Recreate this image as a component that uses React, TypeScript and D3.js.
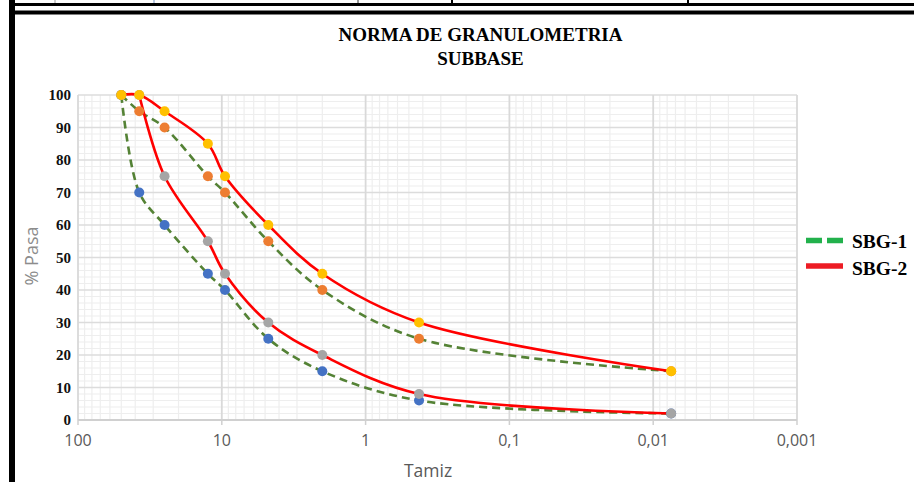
import React from "react";
import * as d3 from "d3";

const W = 914;
const H = 482;

// Sieve sizes (mm) as plotted
const sieves = [50, 37.5, 25, 12.5, 9.5, 4.75, 2, 0.425, 0.0075];
// SBG-1 limits
const sbg1Min = [100, 70, 60, 45, 40, 25, 15, 6, 2];
const sbg1Max = [100, 95, 90, 75, 70, 55, 40, 25, 15];
// SBG-2 limits
const sbg2Min = [100, 100, 75, 55, 45, 30, 20, 8, 2];
const sbg2Max = [100, 100, 95, 85, 75, 60, 45, 30, 15];

const xTickValues = [100, 10, 1, 0.1, 0.01, 0.001];
const xTickLabels = ["100", "10", "1", "0,1", "0,01", "0,001"];
const yTickValues = [0, 10, 20, 30, 40, 50, 60, 70, 80, 90, 100];

const titleLines = ["NORMA DE GRANULOMETRIA", "SUBBASE"];
const legendLabels = ["SBG-1", "SBG-2"];

export default function App() {
  const x = d3.scaleLog().domain([100, 0.001]).range([78, 797]);
  const y = d3.scaleLinear().domain([0, 100]).range([420, 95]);

  const minorX: number[] = [];
  [0.001, 0.01, 0.1, 1, 10].forEach((d) => {
    for (let k = 2; k <= 9; k++) minorX.push(k * d);
  });
  const minorY: number[] = d3.range(0, 101, 2).filter((v) => v % 10 !== 0);

  const line = d3
    .line<[number, number]>()
    .x((d) => x(d[0]))
    .y((d) => y(d[1]))
    .curve(d3.curveCatmullRom.alpha(0.5));

  const pts = (vals: number[], trimTop = false) => {
    let arr = sieves.map((s, i) => [s, vals[i]] as [number, number]);
    if (trimTop) {
      let k = 0;
      while (k + 1 < arr.length && arr[k + 1][1] === 100) k++;
      arr = arr.slice(k);
    }
    return arr;
  };

  const markerSeries = [
    { vals: sbg1Min, color: "#4472C4" },
    { vals: sbg1Max, color: "#ED7D31" },
    { vals: sbg2Min, color: "#A5A5A5" },
    { vals: sbg2Max, color: "#FFC000" },
  ];

  const serif = "'Liberation Serif', 'DejaVu Serif', serif";
  const sans = "'Open Sans', 'Noto Sans', sans-serif";

  return (
    <svg
      width={W}
      height={H}
      style={{ position: "absolute", left: 0, top: 0, background: "#fff" }}
    >
      <rect x={0} y={0} width={W} height={H} fill="#fff" />
      {/* document borders */}
      <rect x={9} y={0} width={6} height={H} fill="#000" />
      <rect x={9} y={3} width={W - 9} height={3} fill="#000" />
      <rect x={9} y={10.5} width={W - 9} height={4} fill="#000" />
      <line x1={55} x2={55} y1={0} y2={3} stroke="#999" strokeWidth={1} />
      <line x1={154} x2={154} y1={0} y2={3} stroke="#7090c0" strokeWidth={1} />
      <line x1={358} x2={358} y1={0} y2={3} stroke="#333" strokeWidth={1} />
      <line x1={452} x2={452} y1={0} y2={3} stroke="#000" strokeWidth={2} />
      <line x1={688} x2={688} y1={0} y2={3} stroke="#000" strokeWidth={2} />

      {/* title */}
      {titleLines.map((t, i) => (
        <text
          key={t}
          x={480.5}
          y={41 + i * 24}
          textAnchor="middle"
          fontFamily={serif}
          fontWeight="bold"
          fontSize={19}
          fill="#000"
        >
          {t}
        </text>
      ))}

      {/* minor grid */}
      {minorY.map((v) => (
        <line key={"my" + v} x1={78} x2={797} y1={y(v)} y2={y(v)} stroke="#eeeeee" strokeWidth={1.2} />
      ))}
      {minorX.map((v) => (
        <line key={"mx" + v} x1={x(v)} x2={x(v)} y1={95} y2={420} stroke="#eeeeee" strokeWidth={1.2} />
      ))}
      {/* major grid */}
      {yTickValues.map((v) => (
        <line key={"gy" + v} x1={78} x2={797} y1={y(v)} y2={y(v)} stroke="#dcdcdc" strokeWidth={1.5} />
      ))}
      {xTickValues.map((v) => (
        <line key={"gx" + v} x1={x(v)} x2={x(v)} y1={95} y2={420} stroke="#d9d9d9" strokeWidth={1.8} />
      ))}
      {/* x axis line and ticks */}
      <line x1={78} x2={797} y1={420} y2={420} stroke="#d0d0d0" strokeWidth={1.8} />
      {xTickValues.map((v) => (
        <line key={"tx" + v} x1={x(v)} x2={x(v)} y1={420} y2={425} stroke="#d0d0d0" strokeWidth={1.5} />
      ))}

      {/* y tick labels */}
      {yTickValues.map((v) => (
        <text
          key={"yl" + v}
          x={71}
          y={y(v) + 5}
          textAnchor="end"
          fontFamily={serif}
          fontWeight="bold"
          fontSize={15}
          fill="#111"
        >
          {v}
        </text>
      ))}
      {/* x tick labels */}
      {xTickValues.map((v, i) => (
        <text
          key={"xl" + v}
          x={x(v)}
          y={446}
          textAnchor="middle"
          fontFamily={sans}
          fontSize={16}
          fill="#595959"
        >
          {xTickLabels[i]}
        </text>
      ))}

      {/* axis titles */}
      <text x={428} y={477} textAnchor="middle" fontFamily={sans} fontSize={17.5} fill="#595959">
        Tamiz
      </text>
      <text
        transform="translate(38,256) rotate(-90)"
        textAnchor="middle"
        fontFamily={sans}
        fontSize={18}
        fill="#8c8c8c"
      >
        % Pasa
      </text>

      {/* lines */}
      {[sbg1Min, sbg1Max].map((vals, i) => (
        <path
          key={"g" + i}
          d={line(pts(vals)) || ""}
          fill="none"
          stroke="#548235"
          strokeWidth={2.6}
          strokeDasharray="8,5"
        />
      ))}
      {[sbg2Min, sbg2Max].map((vals, i) => (
        <path
          key={"r" + i}
          d={line(pts(vals, i === 0)) || ""}
          fill="none"
          stroke="#FF0000"
          strokeWidth={2.6}
        />
      ))}

      {/* markers */}
      {markerSeries.map((s, si) =>
        sieves.map((sv, i) => (
          <circle key={si + "-" + i} cx={x(sv)} cy={y(s.vals[i])} r={5} fill={s.color} />
        ))
      )}

      {/* legend */}
      <line x1={806} x2={843} y1={240.5} y2={240.5} stroke="#22B14C" strokeWidth={5.5} strokeDasharray="16,5" />
      <line x1={806} x2={843} y1={266} y2={266} stroke="#ED1C24" strokeWidth={5.5} />
      {legendLabels.map((t, i) => (
        <text
          key={t}
          x={852}
          y={248 + i * 27}
          fontFamily={serif}
          fontWeight="bold"
          fontSize={19.5}
          fill="#000"
        >
          {t}
        </text>
      ))}
    </svg>
  );
}
